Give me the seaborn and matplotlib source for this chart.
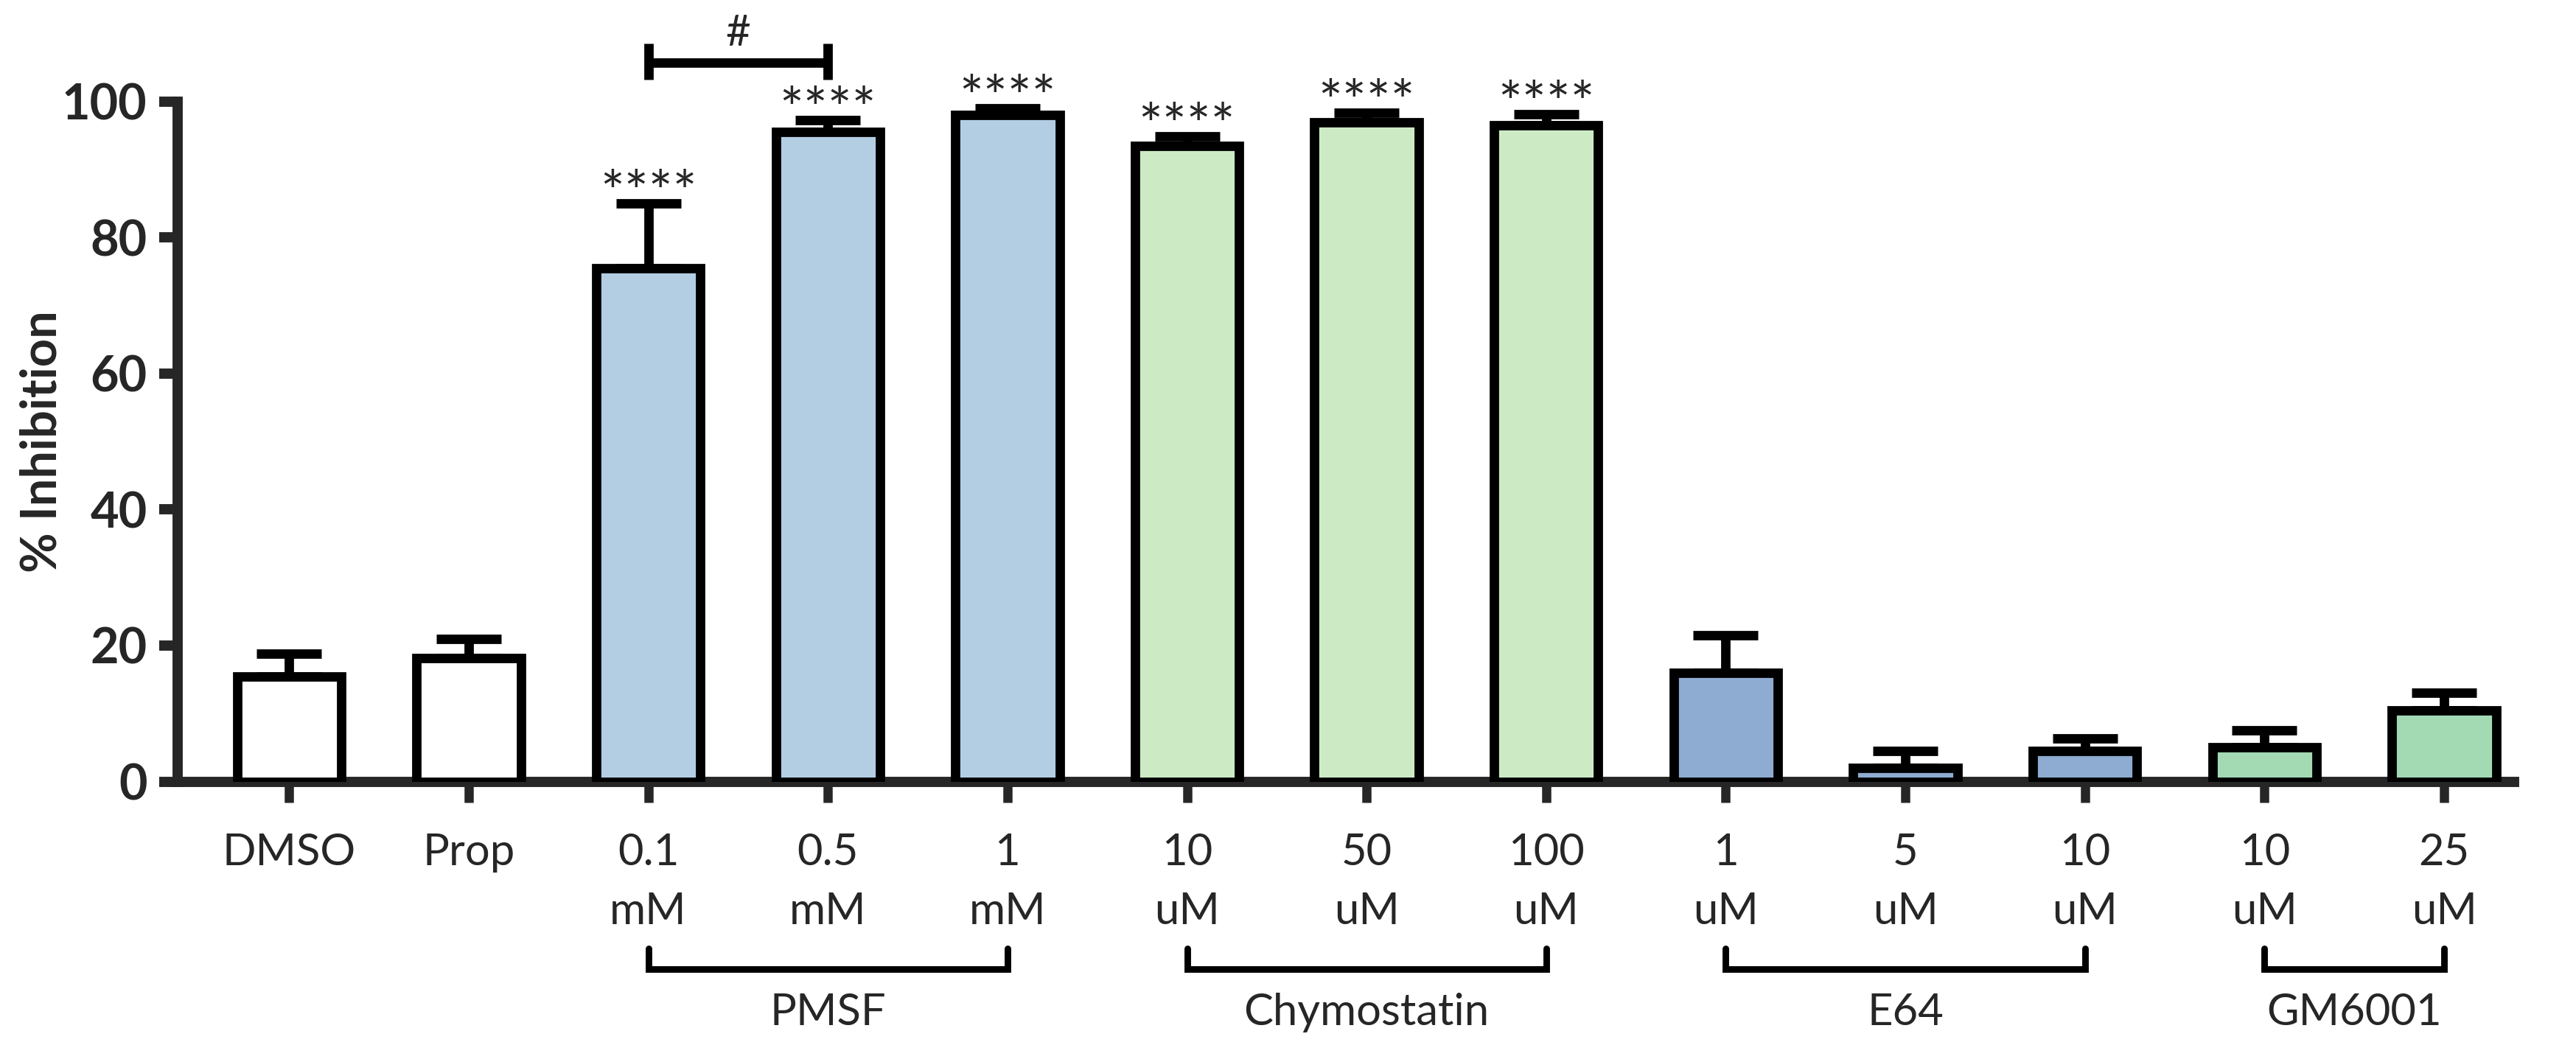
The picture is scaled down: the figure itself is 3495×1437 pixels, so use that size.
import numpy as np
import pandas as pd
import seaborn as sns
import matplotlib.pyplot as plt
from matplotlib.transforms import blended_transform_factory

# values
conditions = ['DMSO', 'Prop', '0.1 mM', '0.5 mM', '1 mM PMSF', '10 uM C', '50 uM C', '100 uM C',
              '1 uM E64', '5 uM E64', '10 uM E64', '10 uM GM', '25 uM GM']
tick_labels = ['DMSO', 'Prop', '0.1\nmM', '0.5\nmM', '1\nmM', '10\nuM', '50\nuM', '100\nuM',
               '1\nuM', '5\nuM', '10\nuM', '10\nuM', '25\nuM']
inhibition = [15.5, 18.2, 75.5, 95.5, 98.0, 93.5, 97.0, 96.5, 16.0, 2.0, 4.5, 5.0, 10.5]
sem = [3.3, 2.8, 9.5, 1.8, 1.0, 1.4, 1.4, 1.7, 5.5, 2.5, 1.8, 2.5, 2.6]
bar_colors = ['#ffffff', '#ffffff', '#b3cde3', '#b3cde3', '#b3cde3', '#ccebc5', '#ccebc5', '#ccebc5',
              '#8eabd1', '#8eabd1', '#8eabd1', '#a3dab4', '#a3dab4']
stars = ['', '', '****', '****', '****', '****', '****', '****', '', '', '', '', '']
groups = [('PMSF', 2, 4), ('Chymostatin', 5, 7), ('E64', 8, 10), ('GM6001', 11, 12)]

df = pd.DataFrame({'cond': conditions, 'val': inhibition})

sns.set_style('ticks')
plt.rcParams['font.family'] = ['Lato', 'DejaVu Sans']

fig = plt.figure(figsize=(17.475, 7.185), dpi=200)
ax = fig.add_axes([0.069, 0.262, 0.907, 0.642])

lw = 4.6
sns.barplot(data=df, x='cond', y='val', hue='cond', palette=bar_colors, legend=False,
            saturation=1, width=0.58, edgecolor='black', linewidth=lw, ax=ax, zorder=3)

x = np.arange(len(conditions))
ax.errorbar(x, inhibition, yerr=[np.zeros(len(sem)), sem], fmt='none', ecolor='black',
            elinewidth=lw, capsize=16, capthick=lw, zorder=2)

# Lato's asterisk sits high, so place on the baseline just under the cap
for xi, v, e, s in zip(x, inhibition, sem, stars):
    if s:
        ax.text(xi, v + e - 1.3, s, ha='center', va='baseline', fontsize=28, clip_on=False)

# '#' comparison bracket between 0.1 mM and 0.5 mM
ax.plot([2, 3], [105.7, 105.7], color='black', lw=lw, clip_on=False, solid_capstyle='butt')
for xb in (2, 3):
    ax.plot([xb, xb], [103.2, 108.6], color='black', lw=lw, clip_on=False, solid_capstyle='butt')
ax.text(2.5, 107.2, '#', ha='center', va='bottom', fontsize=21, clip_on=False)

ax.set_xlim(-0.62, 12.39)
ax.set_ylim(0, 100)
ax.set_yticks([0, 20, 40, 60, 80, 100])
ax.set_xticks(x)
ax.set_xticklabels(tick_labels, fontsize=21.5, linespacing=1.6)
for lab in ax.get_yticklabels():
    lab.set_fontweight('bold')
    lab.set_fontsize(24)
ax.set_xlabel('')
ax.set_ylabel('% Inhibition', fontsize=24, fontweight='bold')
ax.yaxis.set_label_coords(-0.048, 0.5)

for side in ('top', 'right'):
    ax.spines[side].set_visible(False)
for side in ('left', 'bottom'):
    ax.spines[side].set_linewidth(5)
ax.tick_params(axis='y', direction='out', length=9, width=5, pad=6)
ax.tick_params(axis='x', direction='out', length=10, width=4.5, pad=15)

# group brackets below the tick labels
trans = blended_transform_factory(ax.transData, ax.transAxes)
for name, a, b in groups:
    ax.plot([a, a, b, b], [-0.245, -0.276, -0.276, -0.245], color='black', lw=3.2,
            transform=trans, clip_on=False, solid_joinstyle='miter')
    ax.text((a + b) / 2, -0.34, name, ha='center', va='center', fontsize=21.5,
            transform=trans)

fig.savefig('out.png', dpi=200, facecolor='white')
